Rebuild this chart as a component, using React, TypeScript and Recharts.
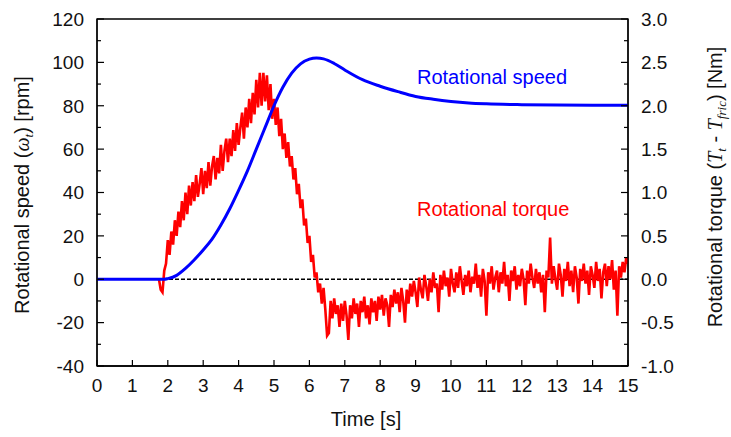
import React from 'react';
import { ComposedChart, Line, XAxis, YAxis, ReferenceLine, ReferenceArea } from 'recharts';

const TIME_TICKS = [0, 1, 2, 3, 4, 5, 6, 7, 8, 9, 10, 11, 12, 13, 14, 15];
const SPEED_TICKS = [-40, -30, -20, -10, 0, 10, 20, 30, 40, 50, 60, 70, 80, 90, 100, 110, 120];
const TORQUE_TICKS = [-1, -0.75, -0.5, -0.25, 0, 0.25, 0.5, 0.75, 1, 1.25, 1.5, 1.75, 2, 2.25, 2.5, 2.75, 3];

// rotational speed [rpm]
const speedTime = [0, 1, 1.9, 2.0, 2.25, 2.5, 2.75, 3.0, 3.25, 3.5, 3.75, 4.0, 4.25, 4.5, 4.75, 5.0, 5.25, 5.5, 5.75, 6.0, 6.2, 6.4, 6.7, 7.0, 7.5, 8.0, 8.5, 9.0, 9.5, 10, 10.5, 11, 12, 13, 14, 15];
const speedRpm = [0, 0, 0, 0.3, 1.8, 5, 9, 13.5, 18.5, 25, 32.5, 41, 50, 60, 70, 80, 88.5, 95, 99.3, 101.5, 102, 101.6, 99.5, 96.5, 92, 89, 86.5, 84.3, 83, 82, 81.3, 80.9, 80.5, 80.3, 80.2, 80.2];

// rotational torque [Nm], sampled every 0.05 s from 1.75 s
const TORQUE_START = 1.75;
const TORQUE_STEP = 0.05;
const torqueNm = [
  0.00, -0.12, -0.15, 0.10, 0.18, 0.45, 0.28, 0.55, 0.40, 0.68, 0.50, 0.78, 0.60, 0.90, 0.68, 1.00, 0.75, 1.08, 0.85, 1.12,
  0.90, 1.20, 0.95, 1.10, 1.28, 0.98, 1.25, 1.05, 1.35, 1.08, 1.30, 1.42, 1.15, 1.40, 1.22, 1.55, 1.25, 1.48, 1.62, 1.35,
  1.62, 1.42, 1.72, 1.48, 1.80, 1.55, 1.75, 1.92, 1.62, 1.98, 1.75, 2.08, 1.80, 2.15, 1.90, 2.30, 1.98, 2.38, 2.00, 2.38,
  2.05, 2.35, 1.95, 2.25, 1.85, 2.08, 1.78, 1.98, 1.65, 1.85, 1.50, 1.68, 1.40, 1.58, 1.30, 1.42, 1.15, 1.28, 0.98, 1.10,
  0.82, 0.92, 0.62, 0.70, 0.42, 0.50, 0.20, 0.28, 0.02, 0.08, -0.15, -0.05, -0.28, -0.10, -0.35, -0.65, -0.62, -0.25, -0.45, -0.22,
  -0.40, -0.30, -0.55, -0.28, -0.48, -0.25, -0.42, -0.70, -0.30, -0.45, -0.22, -0.40, -0.28, -0.55, -0.25, -0.38, -0.20, -0.45, -0.30, -0.52,
  -0.22, -0.38, -0.25, -0.48, -0.20, -0.35, -0.18, -0.42, -0.22, -0.30, -0.55, -0.18, -0.32, -0.12, -0.28, -0.15, -0.38, -0.10, -0.25, -0.50,
  -0.12, -0.28, -0.05, -0.20, -0.02, -0.15, -0.32, 0.02, -0.12, -0.22, 0.05, -0.08, -0.25, 0.00, -0.15, 0.08, -0.10, -0.05, -0.38, 0.05,
  -0.12, 0.10, -0.08, 0.02, -0.20, 0.12, -0.05, -0.15, 0.08, -0.10, 0.15, -0.02, -0.18, 0.05, -0.08, 0.10, -0.15, 0.03, -0.05, 0.18,
  -0.10, 0.05, -0.20, 0.12, -0.02, -0.42, 0.08, -0.05, 0.15, -0.12, 0.02, 0.10, -0.15, 0.08, -0.05, 0.20, -0.08, 0.05, -0.25, 0.10,
  -0.02, 0.15, -0.12, 0.05, -0.08, 0.12, 0.00, -0.30, 0.10, -0.05, 0.18, 0.02, -0.10, 0.12, -0.05, 0.08, -0.15, 0.05, -0.38, 0.10,
  0.02, 0.48, -0.05, 0.15, 0.00, -0.12, 0.18, 0.05, -0.20, 0.12, -0.02, 0.20, -0.08, 0.10, -0.15, 0.15, 0.02, -0.28, 0.12, -0.02,
  0.18, -0.05, 0.10, -0.18, 0.15, 0.05, -0.10, 0.20, -0.02, 0.12, -0.22, 0.08, 0.18, -0.08, 0.15, 0.00, 0.22, -0.12, 0.10, -0.42,
  0.15, 0.02, 0.20, 0.08, 0.25, 0.18,
];

const speedData = speedTime.map((t, i) => ({ t, speed: speedRpm[i] }));
const torqueData = torqueNm.map((v, i) => ({ t: +(TORQUE_START + i * TORQUE_STEP).toFixed(2), torque: v }));

const FONT = "'Liberation Sans', Arial, sans-serif";
const SERIF = "'Liberation Serif', 'Times New Roman', serif";
const INK = '#111';

const LeftTick = ({ x, y, payload }: any) => {
  const v = payload.value;
  const major = v % 20 === 0;
  return (
    <g>
      <line x1={x} x2={x + (major ? 7 : 4)} y1={y} y2={y} stroke="#000" strokeWidth={1.2} />
      {major && (
        <text x={x - 13} y={y} dy="0.36em" textAnchor="end" fontSize={19} fill={INK} fontFamily={FONT}>
          {v}
        </text>
      )}
    </g>
  );
};

const RightTick = ({ x, y, payload }: any) => {
  const v = payload.value;
  const major = Math.abs(v * 2 - Math.round(v * 2)) < 1e-6;
  return (
    <g>
      <line x1={x} x2={x - (major ? 7 : 4)} y1={y} y2={y} stroke="#000" strokeWidth={1.2} />
      {major && (
        <text x={x + 13} y={y} dy="0.36em" textAnchor="start" fontSize={19} fill={INK} fontFamily={FONT}>
          {v.toFixed(1)}
        </text>
      )}
    </g>
  );
};

const BottomTick = ({ x, y, payload }: any) => (
  <g>
    <line x1={x} x2={x} y1={y} y2={y - 6} stroke="#000" strokeWidth={1.2} />
    <text x={x} y={y + 19} dy="0.36em" textAnchor="middle" fontSize={19} fill={INK} fontFamily={FONT}>
      {payload.value}
    </text>
  </g>
);

export default function App() {
  return (
    <div style={{ position: 'absolute', left: 0, top: 0, width: 731, height: 437, background: '#fff' }}>
      <ComposedChart width={731} height={437} margin={{ top: 19, right: 0, bottom: 0, left: 0 }}>
        <XAxis
          dataKey="t"
          type="number"
          domain={[0, 15]}
          ticks={TIME_TICKS}
          interval={0}
          allowDataOverflow
          height={71}
          tickSize={0}
          tickMargin={0}
          tickLine={false}
          axisLine={{ stroke: '#000', strokeWidth: 1.3 }}
          tick={(p: any) => <BottomTick {...p} />}
        />
        <YAxis
          yAxisId="left"
          type="number"
          domain={[-40, 120]}
          ticks={SPEED_TICKS}
          interval={0}
          allowDataOverflow
          width={97}
          tickSize={0}
          tickMargin={0}
          tickLine={false}
          axisLine={{ stroke: '#000', strokeWidth: 1.3 }}
          tick={(p: any) => <LeftTick {...p} />}
        />
        <YAxis
          yAxisId="right"
          orientation="right"
          type="number"
          domain={[-1, 3]}
          ticks={TORQUE_TICKS}
          interval={0}
          allowDataOverflow
          width={103}
          tickSize={0}
          tickMargin={0}
          tickLine={false}
          axisLine={{ stroke: '#000', strokeWidth: 1.3 }}
          tick={(p: any) => <RightTick {...p} />}
        />
        <ReferenceArea yAxisId="left" x1={0} x2={15} y1={-40} y2={120} fill="none" stroke="#000" strokeWidth={1.3} />
        <ReferenceLine yAxisId="left" y={0} stroke="#000" strokeDasharray="4 2" strokeWidth={1.5} />
        <Line
          yAxisId="right"
          data={torqueData}
          dataKey="torque"
          type="linear"
          stroke="#ff0000"
          strokeWidth={2.6}
          dot={false}
          isAnimationActive={false}
        />
        <Line
          yAxisId="left"
          data={speedData}
          dataKey="speed"
          type="monotone"
          stroke="#0000ff"
          strokeWidth={3}
          dot={false}
          isAnimationActive={false}
        />
      </ComposedChart>
      <svg
        width={731}
        height={437}
        style={{ position: 'absolute', left: 0, top: 0, pointerEvents: 'none' }}
        fontFamily={FONT}
      >
        <text x={417} y={84} fontSize={20} fill="#0000ff">Rotational speed</text>
        <text x={417} y={216} fontSize={20} fill="#ff0000">Rotational torque</text>
        <text x={366} y={426} fontSize={20} fill={INK} textAnchor="middle">Time [s]</text>
        <text x={29} y={195} fontSize={20} fill={INK} textAnchor="middle" transform="rotate(-90 29 195)">
          Rotational speed (
          <tspan fontFamily={SERIF} fontStyle="italic">ω</tspan>
          <tspan fontFamily={SERIF} fontStyle="italic" fontSize={13} dy={4}>t</tspan>
          <tspan dy={-4}>) [rpm]</tspan>
        </text>
        <text x={722} y={187} fontSize={20} fill={INK} textAnchor="middle" transform="rotate(-90 722 187)">
          Rotational torque (
          <tspan fontFamily={SERIF} fontStyle="italic">T</tspan>
          <tspan fontFamily={SERIF} fontStyle="italic" fontSize={13} dy={4}>t</tspan>
          <tspan dy={-4}> - </tspan>
          <tspan fontFamily={SERIF} fontStyle="italic">T</tspan>
          <tspan fontFamily={SERIF} fontStyle="italic" fontSize={13} dy={4}>fric</tspan>
          <tspan dy={-4}>) [Nm]</tspan>
        </text>
      </svg>
    </div>
  );
}
